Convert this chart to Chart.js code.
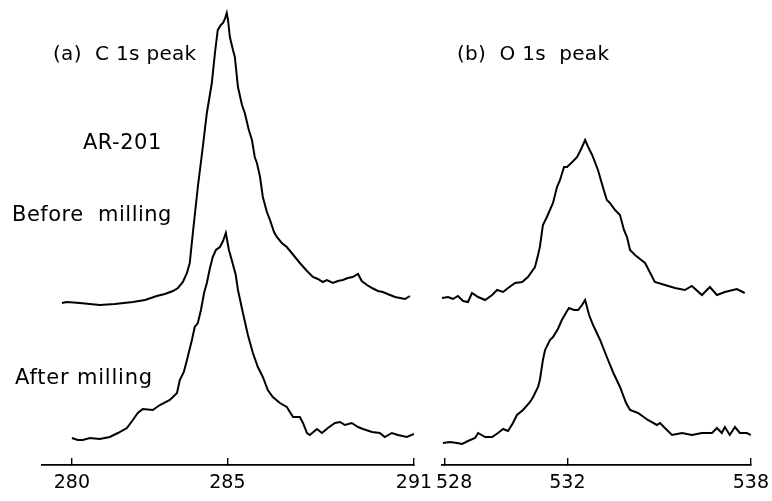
<!DOCTYPE html>
<html>
<head>
<meta charset="utf-8">
<script src="https://cdn.jsdelivr.net/npm/chart.js@4"></script>
<style>
  html, body { margin: 0; padding: 0; background: #fff; overflow: hidden; }
  #wrap { position: relative; width: 772px; height: 501px; overflow: hidden; }
  canvas { position: absolute; top: 0; }
  .lbl { position: absolute; font-family: "DejaVu Sans", sans-serif; font-size: 21px; color: #000; white-space: pre; line-height: 23px; letter-spacing: 0.5px; }
</style>
</head>
<body>
<div id="wrap">
  <canvas id="c1s" width="460" height="501" style="left:0"></canvas>
  <canvas id="o1s" width="383" height="501" style="left:400px"></canvas>
  <div class="lbl" style="left:53px; top:42px; font-size:20px; letter-spacing:0.3px">(a)  C 1s peak</div>
  <div class="lbl" style="left:457px; top:42px; font-size:20px; letter-spacing:0.3px">(b)  O 1s  peak</div>
  <div class="lbl" style="left:83px; top:131px">AR-201</div>
  <div class="lbl" style="left:12px; top:203px">Before  milling</div>
  <div class="lbl" style="left:15px; top:366px; letter-spacing:0.8px">After milling</div>
</div>
<script>
// C 1s, binding energy (eV) and intensity (arb. units, spectra offset)
const cEnergyBefore = [279.68, 279.84, 280.26, 280.90, 281.38, 281.96, 282.35, 282.73, 282.99, 283.25,
  283.41, 283.57, 283.70, 283.79, 283.89, 284.05, 284.21, 284.34, 284.50, 284.60,
  284.69, 284.79, 284.86, 284.92, 284.98, 285.02, 285.08, 285.18, 285.24, 285.34,
  285.47, 285.56, 285.69, 285.79, 285.88, 285.95, 286.05, 286.14, 286.27, 286.37,
  286.50, 286.59, 286.75, 286.91, 287.07, 287.33, 287.56, 287.75, 287.91, 288.07,
  288.20, 288.39, 288.55, 288.71, 288.87, 289.03, 289.20, 289.32, 289.49, 289.65,
  289.84, 290.00, 290.23, 290.39, 290.55, 290.71, 290.87];
const cIntBefore = [162, 163, 162, 160, 161, 163, 165, 169, 171, 174,
  177, 183, 192, 202, 232, 278, 318, 352, 382, 412,
  435, 440, 442, 446, 452, 445, 428, 415, 408, 378,
  360, 352, 335, 325, 308, 302, 288, 268, 253, 245,
  233, 228, 222, 218, 212, 202, 194, 188, 186, 183,
  185, 182, 184, 185, 187, 188, 191, 184, 180, 177,
  174, 173, 170, 168, 167, 166, 169];

const cEnergyAfter = [280.00, 280.19, 280.35, 280.58, 280.90, 281.22, 281.48, 281.77, 281.96, 282.12,
  282.28, 282.60, 282.83, 283.15, 283.38, 283.47, 283.60, 283.70, 283.86, 283.95,
  284.05, 284.15, 284.25, 284.34, 284.44, 284.53, 284.63, 284.76, 284.86, 284.95,
  285.05, 285.14, 285.27, 285.34, 285.50, 285.66, 285.82, 285.98, 286.14, 286.30,
  286.46, 286.69, 286.91, 287.11, 287.33, 287.43, 287.56, 287.65, 287.88, 288.04,
  288.23, 288.46, 288.62, 288.78, 289.00, 289.20, 289.36, 289.65, 289.90, 290.06,
  290.29, 290.48, 290.77, 291.00];
const cIntAfter = [27, 25, 25, 27, 26, 28, 32, 37, 45, 52,
  56, 55, 60, 65, 72, 85, 93, 105, 125, 138,
  142, 155, 172, 182, 197, 208, 215, 218, 224, 232,
  215, 205, 190, 175, 152, 130, 112, 98, 88, 75,
  68, 62, 58, 48, 48, 42, 32, 30, 36, 32,
  37, 42, 43, 40, 42, 38, 36, 33, 32, 28,
  32, 30, 28, 31];

// O 1s
const oEnergyBefore = [527.90, 528.10, 528.26, 528.42, 528.59, 528.75, 528.88, 529.08, 529.31, 529.54,
  529.70, 529.90, 530.06, 530.29, 530.52, 530.71, 530.94, 531.04, 531.10, 531.20,
  531.33, 531.53, 531.66, 531.76, 531.89, 531.99, 532.16, 532.32, 532.45, 532.58,
  532.68, 532.81, 533.00, 533.16, 533.29, 533.39, 533.56, 533.72, 533.85, 533.95,
  534.05, 534.21, 534.54, 534.86, 535.19, 535.52, 535.84, 536.07, 536.40, 536.66,
  536.89, 537.15, 537.54, 537.80];
const oIntBefore = [167, 168, 166, 169, 164, 163, 172, 168, 165, 170,
  175, 173, 177, 182, 183, 188, 198, 210, 218, 240,
  248, 262, 278, 285, 298, 298, 303, 308, 316, 325,
  318, 310, 295, 278, 265, 262, 255, 250, 235, 228,
  215, 210, 202, 183, 180, 177, 175, 179, 170, 178,
  170, 173, 176, 172];

const oEnergyAfter = [527.93, 528.16, 528.39, 528.56, 528.75, 528.98, 529.08, 529.31, 529.54, 529.73,
  529.90, 530.06, 530.22, 530.35, 530.55, 530.78, 530.88, 531.04, 531.10, 531.20,
  531.27, 531.43, 531.53, 531.69, 531.82, 531.95, 532.05, 532.22, 532.35, 532.48,
  532.58, 532.71, 532.84, 533.07, 533.29, 533.49, 533.72, 533.92, 534.05, 534.31,
  534.63, 534.93, 535.03, 535.19, 535.42, 535.75, 536.07, 536.40, 536.73, 536.89,
  537.05, 537.15, 537.31, 537.48, 537.64, 537.87, 538.00];
const oIntAfter = [22, 23, 22, 21, 24, 27, 32, 28, 28, 32,
  36, 34, 42, 50, 55, 63, 68, 78, 85, 105,
  115, 125, 128, 136, 145, 152, 157, 155, 155, 160,
  165, 150, 140, 125, 108, 93, 78, 62, 55, 52,
  45, 40, 42, 37, 30, 32, 30, 32, 32, 37,
  32, 38, 30, 38, 32, 32, 30];

const cTicks = [280, 285, 291];
const oTicks = [528, 532, 538];

function zip(xs, ys) {
  return xs.map((x, i) => ({ x: x, y: ys[i] }));
}

function spectrum(data) {
  return {
    data: data,
    borderColor: '#000',
    borderWidth: 2,
    pointRadius: 0,
    tension: 0,
    fill: false
  };
}

function makeChart(id, datasets, xmin, xmax, ticks, padding, label) {
  return new Chart(document.getElementById(id), {
    type: 'line',
    data: { datasets: datasets },
    options: {
      responsive: false,
      animation: false,
      layout: { padding: padding },
      plugins: { legend: { display: false }, tooltip: { enabled: false } },
      scales: {
        x: {
          type: 'linear',
          min: xmin,
          max: xmax,
          afterBuildTicks: s => { s.ticks = ticks.map(v => ({ value: v })); },
          afterFit: s => { s.height = 36; },
          grid: { drawOnChartArea: false, drawTicks: true, tickLength: -7, color: '#000', lineWidth: 1.4 },
          border: { display: true, color: '#000', width: 1.7 },
          ticks: {
            autoSkip: false,
            maxRotation: 0,
            padding: 14,
            color: '#000',
            font: { family: 'DejaVu Sans', size: 19 },
            callback: label
          }
        },
        y: { display: false, min: 0, max: 465 }
      }
    }
  });
}

makeChart('c1s', [spectrum(zip(cEnergyBefore, cIntBefore)), spectrum(zip(cEnergyAfter, cIntAfter))],
  279.04, 291.0, cTicks, { left: 42, right: 46, top: 0, bottom: 0 }, v => String(v));

// the 528 label sits a little to the right of its tick in the original
makeChart('o1s', [spectrum(zip(oEnergyBefore, oIntBefore)), spectrum(zip(oEnergyAfter, oIntAfter))],
  527.9, 538.0, oTicks, { left: 42, right: 32, top: 0, bottom: 0 }, v => (v === 528 ? '   528' : String(v)));
</script>
</body>
</html>
